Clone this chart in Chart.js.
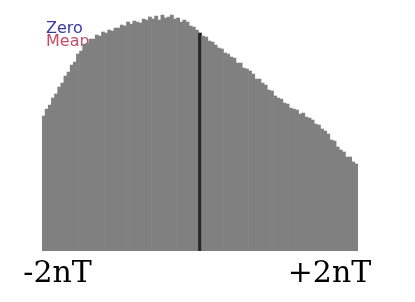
<!DOCTYPE html>
<html>
<head>
<meta charset="utf-8">
<script src="https://cdn.jsdelivr.net/npm/chart.js@4"></script>
<style>
  html, body { margin: 0; padding: 0; background: #fff; }
  #wrap { width: 415px; height: 302px; position: relative; }
</style>
</head>
<body>
<div id="wrap"><canvas id="histChart" width="415" height="302"></canvas></div>
<script>
// гистограмма: 101 бин от -2nT до +2nT, центральный бин = ноль
const binCounts = [
    135, 142, 146, 153, 157, 164,
    168, 175, 179, 186, 189,
    197, 200, 207, 208, 212,
    212, 216, 215, 219, 218,
    221, 220, 223, 223, 226,
    225, 229, 227, 230, 229,
    228, 232, 231, 234, 232,
    235, 231, 236, 233, 234,
    236, 232, 233, 229, 231,
    229, 225, 224, 221, 218,
    215, 214, 210, 209, 206,
    203, 202, 198, 197, 194,
    193, 188, 188, 183, 182,
    180, 177, 172, 172, 168,
    166, 161, 160, 155, 153,
    152, 148, 147, 143, 142,
    141, 137, 138, 134, 133,
    131, 127, 126, 122, 120,
    117, 111, 110, 104, 101,
    99, 94, 94, 89, 87
];
const zeroBin = 50;
const tickLabels = ['-2nT', '+2nT'];
const legendLabels = ['Zero', 'Mean'];
const legendColors = ['#3a3a9e', '#c44c66'];

const binLabels = binCounts.map((v, i) => String(i));

// легенда рисуется под столбцами (поэтому "Mean" перекрыт)
const legendUnder = {
    id: 'legendUnder',
    beforeDatasetsDraw(chart) {
        const c = chart.ctx;
        c.save();
        c.font = '16px "DejaVu Sans", sans-serif';
        c.textBaseline = 'alphabetic';
        legendLabels.forEach((t, i) => {
            c.fillStyle = legendColors[i];
            c.fillText(t, 46, 33 + i * 13);
        });
        c.restore();
    }
};

// подписи по краям оси
const edgeLabels = {
    id: 'edgeLabels',
    afterDraw(chart) {
        const c = chart.ctx;
        const x = chart.scales.x;
        c.save();
        c.font = '30px "DejaVu Serif", serif';
        c.fillStyle = '#000';
        c.textBaseline = 'alphabetic';
        c.textAlign = 'center';
        c.fillText(tickLabels[0], x.getPixelForValue(0) + 14, 282);
        c.fillText(tickLabels[1], x.getPixelForValue(binCounts.length - 1) - 27, 282);
        c.restore();
    }
};

const ctx = document.getElementById('histChart').getContext('2d');
new Chart(ctx, {
    type: 'bar',
    data: {
        labels: binLabels,
        datasets: [{
            label: 'hist',
            data: binCounts,
            backgroundColor: binCounts.map((v, i) => i === zeroBin ? '#262626' : '#808080'),
            borderWidth: 0,
            barPercentage: 1.0,
            categoryPercentage: 1.0
        }]
    },
    options: {
        responsive: false,
        animation: false,
        layout: { padding: { left: 42, right: 57, top: 10, bottom: 51 } },
        scales: {
            x: { display: false },
            y: { display: false, min: 0, max: 241 }
        },
        plugins: {
            legend: { display: false },
            tooltip: { enabled: false }
        }
    },
    plugins: [legendUnder, edgeLabels]
});
</script>
</body>
</html>
